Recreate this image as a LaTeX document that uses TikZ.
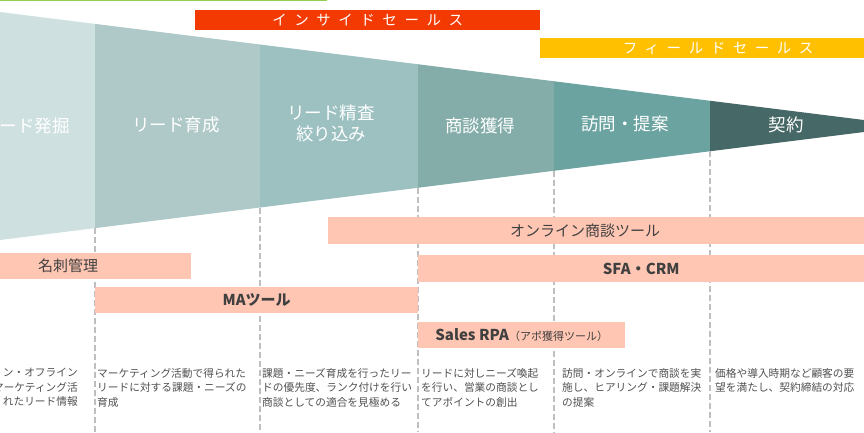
\documentclass[tikz,border=0pt]{standalone}
\usepackage{fontspec}
\setmainfont{Noto Sans CJK JP}
\usetikzlibrary{positioning}

\definecolor{stageA}{HTML}{CFE0E0}
\definecolor{stageB}{HTML}{AFC9C8}
\definecolor{stageC}{HTML}{9DC1C1}
\definecolor{stageD}{HTML}{84ADAA}
\definecolor{stageE}{HTML}{6BA3A1}
\definecolor{stageF}{HTML}{466866}
\definecolor{toolpink}{HTML}{FFC6B3}
\definecolor{insidered}{HTML}{F23A02}
\definecolor{fieldyellow}{HTML}{FFC000}
\definecolor{leafgreen}{HTML}{92D050}
\definecolor{guidegray}{HTML}{BFBFBF}
\definecolor{bodygray}{HTML}{505050}
\definecolor{inkgray}{HTML}{404040}

\tikzset{
  stage/.style={text=white, align=center, inner sep=0pt,
    font=\fontsize{17.5}{21}\selectfont},
  guide/.style={guidegray, line width=1.5pt, dash pattern=on 6pt off 3pt},
  toolbar/.style={fill=toolpink, anchor=north west, inner sep=0pt,
    text=inkgray, font=\fontsize{15}{15}\selectfont},
  tooltext/.style={text=inkgray, inner sep=0pt, font=\fontsize{15}{15}\selectfont},
  salesbar/.style={anchor=north west, inner sep=0pt, minimum height=20pt,
    text=white, font=\fontsize{14.5}{14.5}\selectfont\addfontfeature{LetterSpace=52}},
  note/.style={text=bodygray, anchor=north west, align=left, inner sep=0pt,
    font=\fontsize{10.7}{14.5}\selectfont}
}

\begin{document}
\begin{tikzpicture}[x=1pt, y=-1pt]

    \useasboundingbox (0,0) rectangle (864,432);
    \clip (0,0) rectangle (864,432);

    % funnel edges
    \coordinate (t0) at (0,12);      \coordinate (b0) at (0,240);
    \coordinate (t1) at (95,23.875); \coordinate (b1) at (95,228.125);
    \coordinate (t2) at (260,44.5);  \coordinate (b2) at (260,207.5);
    \coordinate (t3) at (418,64.25); \coordinate (b3) at (418,187.75);
    \coordinate (t4) at (554,81.25); \coordinate (b4) at (554,170.75);
    \coordinate (t5) at (710,100.75);\coordinate (b5) at (710,151.25);
    \coordinate (tip) at (912,126);

    \fill[stageA] (t0) -- (t1) -- (b1) -- (b0) -- cycle;
    \fill[stageB] (t1) -- (t2) -- (b2) -- (b1) -- cycle;
    \fill[stageC] (t2) -- (t3) -- (b3) -- (b2) -- cycle;
    \fill[stageD] (t3) -- (t4) -- (b4) -- (b3) -- cycle;
    \fill[stageE] (t4) -- (t5) -- (b5) -- (b4) -- cycle;
    \fill[stageF] (t5) -- (tip) -- (b5) -- cycle;

    \node[stage, anchor=east] (hakkutsu) at (70,126) {ード発掘};
    \node[stage] (ikusei) at (176,125) {リード育成};
    \node[stage] (seisa) at (331,123) {リード精査\\絞り込み};
    \node[stage] (shodan) at (480,126) {商談獲得};
    \node[stage] (homon) at (625,124) {訪問・提案};
    \node[stage] (keiyaku) at (786,125) {契約};

    % dashed guides
    \coordinate (e1) at (95,432);
    \coordinate (e2) at (260,432);
    \coordinate (e3) at (418,432);
    \coordinate (e4) at (554,432);
    \coordinate (e5) at (710,432);
    \draw[guide] (b1) -- (e1);
    \draw[guide] (b2) -- (e2);
    \draw[guide] (b3) -- (e3);
    \draw[guide] (b4) -- (e4);
    \draw[guide] (b5) -- (e5);

    % sales bars
    \coordinate (g0) at (0,0);
    \coordinate (g1) at (327,0);
    \draw[leafgreen, line width=2.5pt] (g0) -- (g1);
    \node[salesbar, fill=insidered, minimum width=345pt] (inside) at (195,10)
      {インサイドセールス};
    \node[salesbar, fill=fieldyellow, minimum width=356pt] (field) at (540,38)
      {フィールドセールス};

    % tools
    \node[toolbar, minimum width=536pt, minimum height=27pt] (online) at (328,217) {};
    \node[tooltext] (onlinetxt) at (585,231) {オンライン商談ツール};
    \node[toolbar, minimum width=246pt, minimum height=26pt] (meishi) at (-55,253) {名刺管理};
    \node[toolbar, minimum width=446pt, minimum height=27pt] (sfa) at (418,255)
      {\bfseries SFA・CRM};
    \node[toolbar, minimum width=323pt, minimum height=26pt] (ma) at (95,287)
      {\bfseries MAツール};
    \node[toolbar, minimum width=207pt, minimum height=26pt] (rpa) at (418,322)
      {\bfseries Sales RPA{\mdseries\fontsize{11}{11}\selectfont （アポ獲得ツール）}};

    % descriptions
    \node[note, anchor=north east, align=right] (note1) at (78,368)
      {ン・オフライン\\マーケティング活\\れたリード情報};
    \node[note] (note2) at (97,368)
      {マーケティング活動で得られた\\リードに対する課題・ニーズの\\育成};
    \node[note] (note3) at (262,368)
      {課題・ニーズ育成を行ったリー\\ドの優先度、ランク付けを行い\\商談としての適合を見極める};
    \node[note] (note4) at (421,368)
      {リードに対しニーズ喚起\\を行い、営業の商談とし\\てアポイントの創出};
    \node[note] (note5) at (562,368)
      {訪問・オンラインで商談を実\\施し、ヒアリング・課題解決\\の提案};
    \node[note] (note6) at (715,368)
      {価格や導入時期など顧客の要\\望を満たし、契約締結の対応};

\end{tikzpicture}
\end{document}
